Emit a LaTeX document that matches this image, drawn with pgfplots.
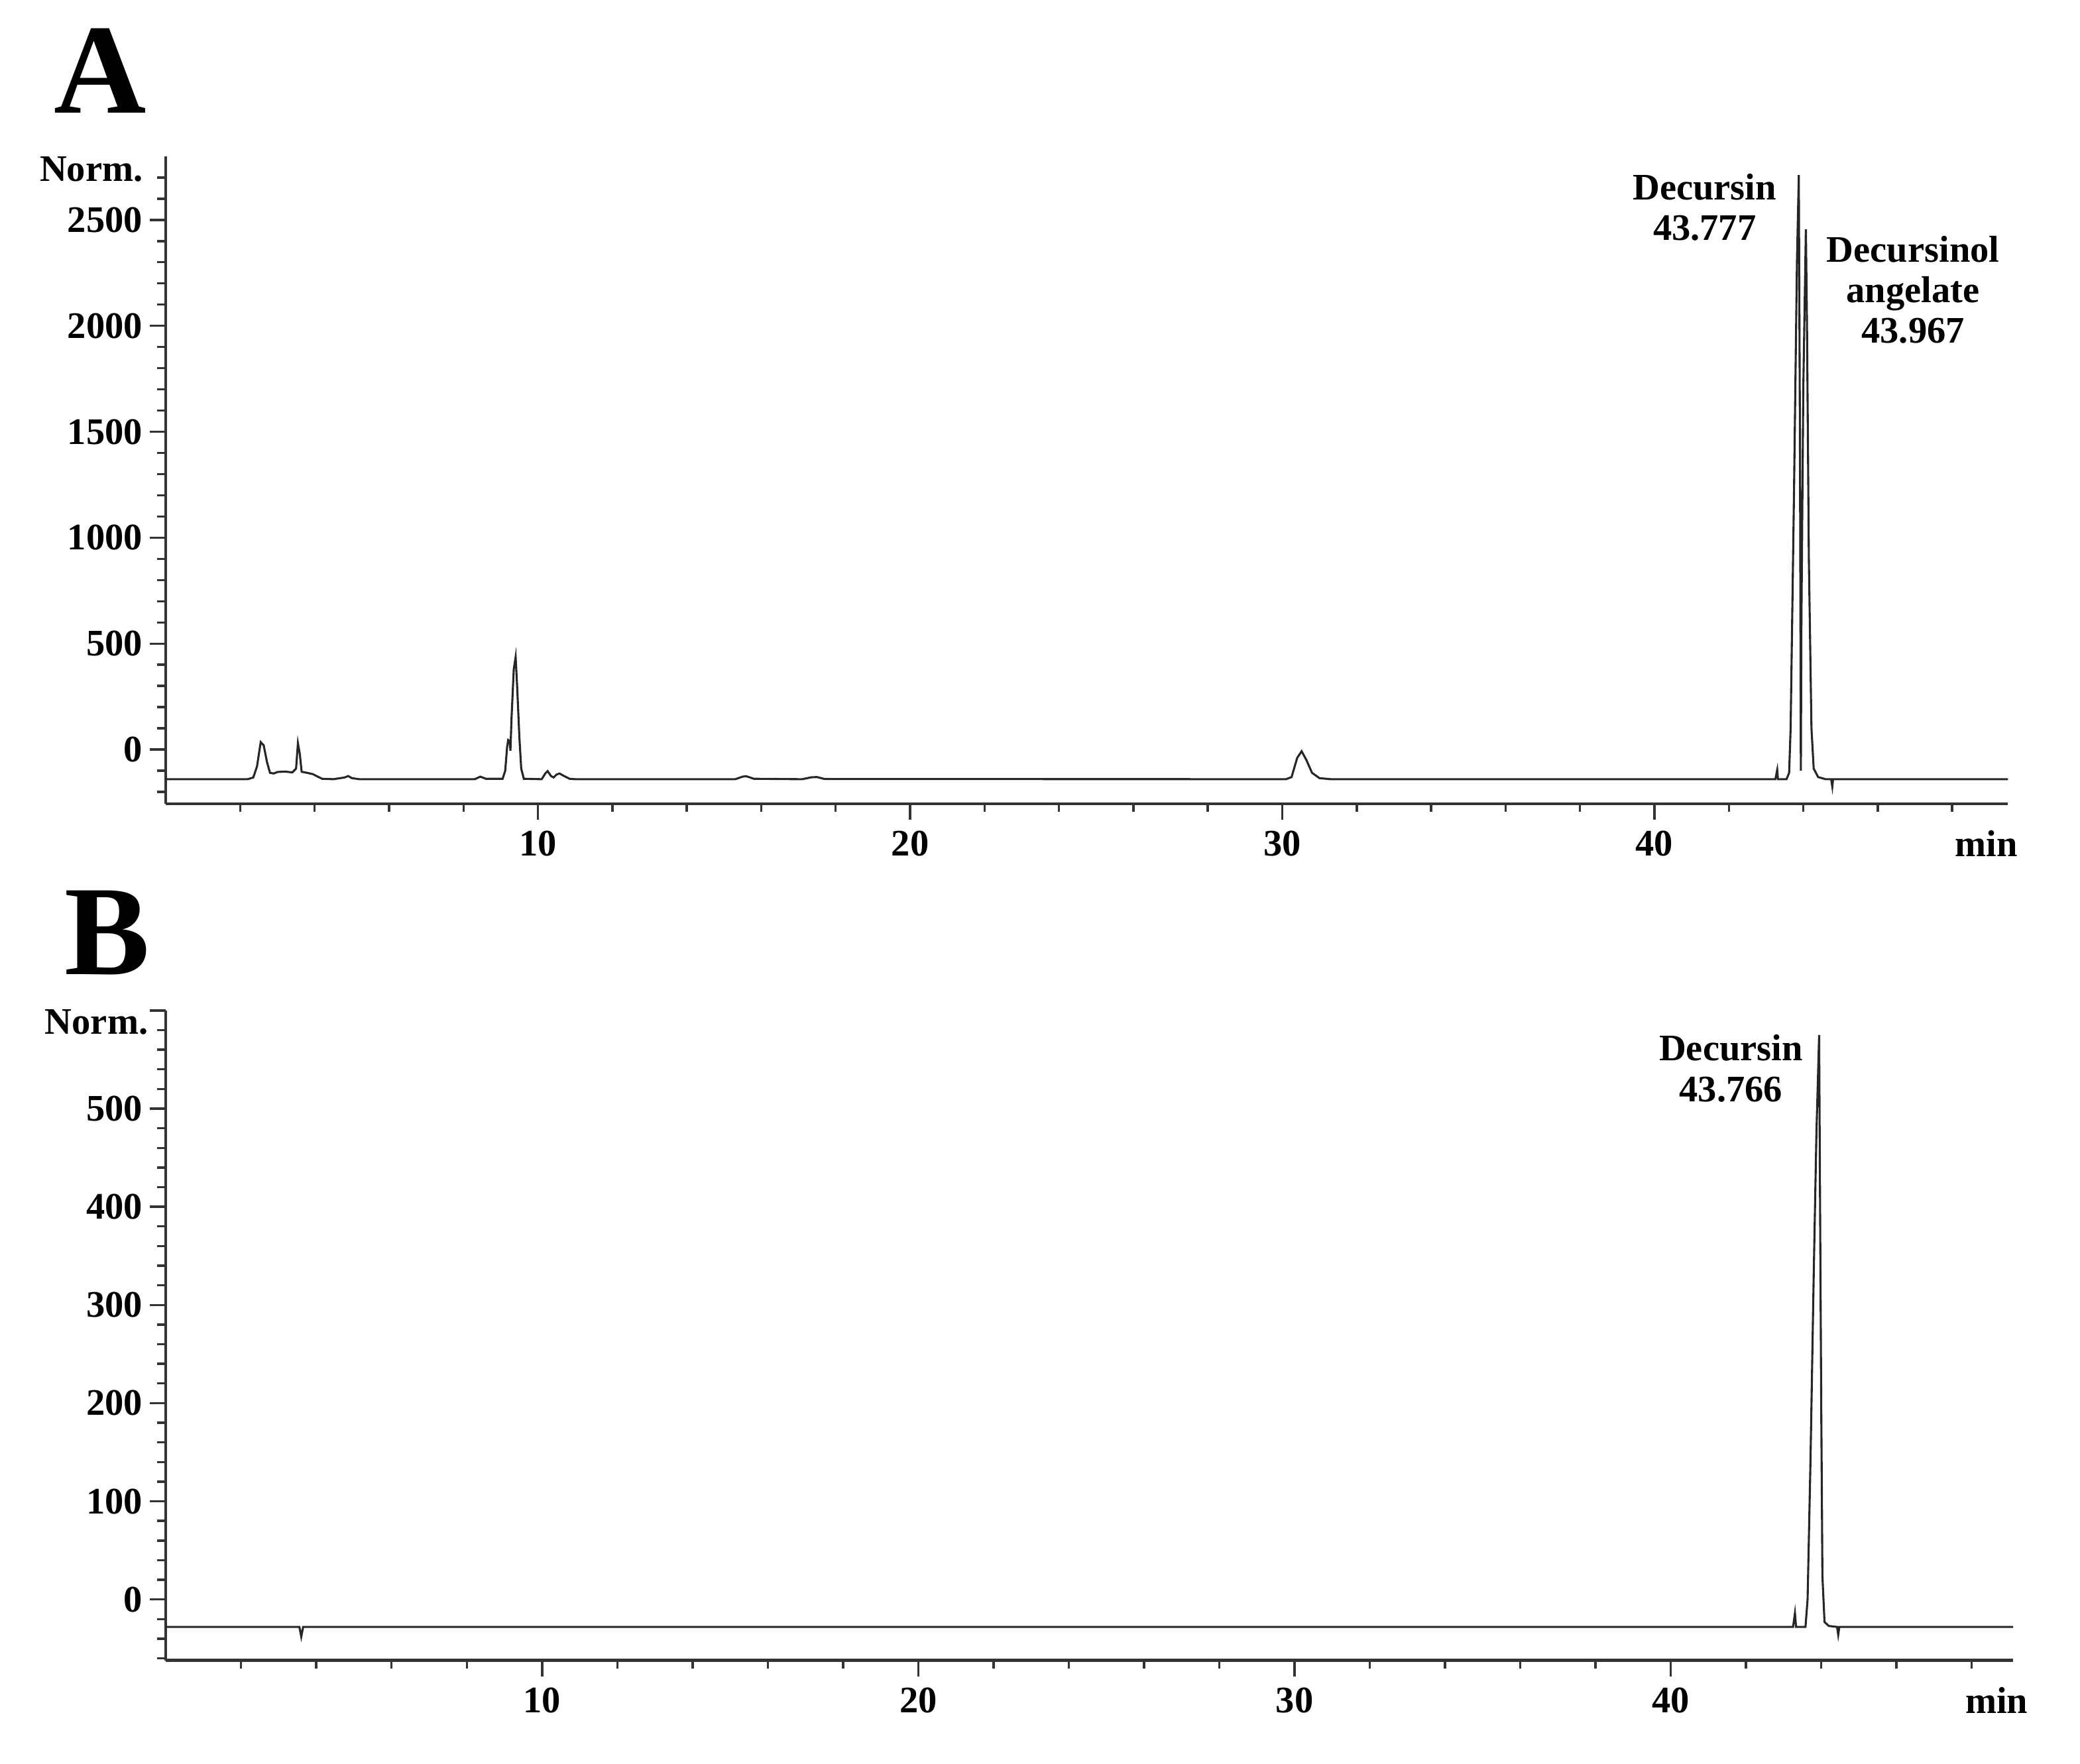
\documentclass[border=0pt]{standalone}
\usepackage{fontspec}
\setmainfont{Liberation Serif}
\usepackage{pgfplots}
\pgfplotsset{compat=1.18}

\newcommand\lab{\bfseries\fontsize{8.2}{8.9}\selectfont}

\pgfplotsset{chrom/.style={
    scale only axis, anchor=south west,
    axis x line*=bottom, axis y line*=left,
    axis line style={-, line width=0.6pt, black!80},
    tick align=outside,
    major tick length=0.125cm, minor tick length=0.065cm,
    tick style={line width=0.5pt, black!80},
    tick label style={font=\lab},
    yticklabel style={xshift=0.07cm},
    xticklabel style={yshift=0.04cm},
    /pgf/number format/assume math mode=true,
    /pgf/number format/1000 sep={},
    xmin=0,
    xtick={10,20,30,40},
    minor xtick={2,4,...,48},
    clip=false,
}}

\begin{document}
\begin{tikzpicture}
\useasboundingbox (0,0) rectangle (16cm,13.571cm);

% panel A
\begin{axis}[chrom,
    at={(1.2755cm,7.388cm)}, width=14.17cm, height=4.98cm,
    xmax=49.5, ymin=-255, ymax=2800,
    ytick={0,500,...,2500},
    minor ytick={-200,-100,...,2700},
]
\addplot[black!85, line width=0.45pt] coordinates {
(0,-140)(2.2,-140)(2.35,-132)(2.45,-80)(2.55,35)(2.63,20)(2.72,-60)(2.8,-110)
(2.9,-113)(3.0,-106)(3.2,-104)(3.4,-108)(3.5,-90)(3.55,30)(3.6,-20)(3.65,-105)
(3.8,-110)(3.95,-116)(4.05,-125)(4.2,-138)(4.5,-140)(4.8,-132)(4.9,-125)(5.0,-135)
(5.2,-140)(8.3,-140)(8.45,-128)(8.6,-138)(9.05,-138)(9.12,-100)(9.17,10)(9.2,45)
(9.24,40)(9.26,-5)(9.29,150)(9.35,380)(9.4,437)(9.44,300)(9.5,60)(9.55,-90)
(9.62,-138)(10.1,-140)(10.2,-112)(10.26,-102)(10.35,-125)(10.42,-132)(10.5,-118)
(10.58,-113)(10.7,-125)(10.85,-138)(11,-140)(15.3,-140)(15.5,-128)(15.6,-126)
(15.8,-138)(17.1,-140)(17.35,-131)(17.5,-130)(17.7,-139)(30.1,-140)(30.25,-130)
(30.4,-40)(30.52,-8)(30.65,-50)(30.8,-110)(31.0,-135)(31.3,-140)(43.25,-140)
(43.3,-96)(43.32,-140)(43.55,-140)(43.62,-110)(43.66,100)(43.75,1200)(43.83,2300)
(43.88,2712)(43.91,1500)(43.935,-100)(43.95,600)(44.0,1700)(44.07,2456)(44.1,2000)
(44.15,900)(44.22,100)(44.28,-90)(44.4,-130)(44.6,-140)(44.75,-140)(44.78,-175)
(44.8,-140)(49.5,-140)
};
\node[align=center, font=\lab, inner sep=0] at (axis cs:41.35,2560) {Decursin\\43.777};
\node[align=center, font=\lab, inner sep=0] at (axis cs:46.95,2170) {Decursinol\\angelate\\43.967};
\node[anchor=base east, font=\lab, inner sep=0] at ([xshift=-0.17cm]axis cs:0,2681) {Norm.};
\node[anchor=base east, font=\lab, inner sep=0] at ([xshift=0.08cm, yshift=-0.408cm]rel axis cs:1,0) {min};
\end{axis}

% panel B
\begin{axis}[chrom,
    at={(1.2755cm,0.796cm)}, width=14.21cm, height=5.0cm,
    xmax=49.1, ymin=-62, ymax=600,
    ytick={0,100,...,500},
    minor ytick={-60,-40,...,580},
    extra y ticks={600}, extra y tick labels={},
]
\addplot[black!85, line width=0.45pt] coordinates {
(0,-28)(3.55,-28)(3.6,-38)(3.65,-28)(43.25,-28)(43.3,-14)(43.33,-28)(43.58,-28)
(43.636,0)(43.714,143)(43.8,333)(43.871,475)(43.943,575)(43.964,428)(44.0,190)
(44.03,24)(44.086,-23)(44.2,-27)(44.42,-28)(44.45,-36)(44.48,-28)(49.1,-28)
};
\node[align=center, font=\lab, inner sep=0] at (axis cs:41.6,541) {Decursin\\43.766};
\node[anchor=base east, font=\lab, inner sep=0] at ([xshift=-0.13cm]axis cs:0,576) {Norm.};
\node[anchor=base east, font=\lab, inner sep=0] at ([xshift=0.12cm, yshift=-0.408cm]rel axis cs:1,0) {min};
\end{axis}

\node[anchor=base west, inner sep=0, font=\bfseries\fontsize{28}{30}\selectfont] at (0.408cm,12.704cm) {A};
\node[anchor=base west, inner sep=0, font=\bfseries\fontsize{28}{30}\selectfont] at (0.49cm,6.071cm) {B};
\end{tikzpicture}
\end{document}
